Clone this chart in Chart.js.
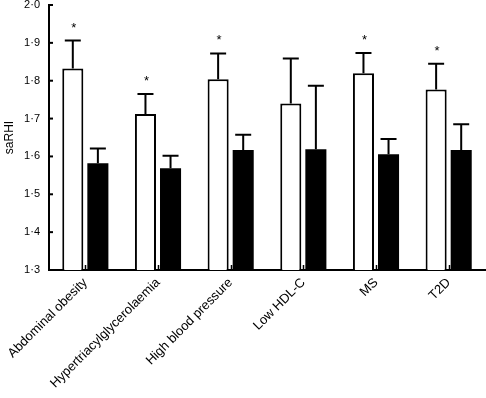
<!DOCTYPE html>
<html>
<head>
<meta charset="utf-8">
<script src="https://cdn.jsdelivr.net/npm/chart.js@4.4.0/dist/chart.umd.min.js"></script>
<style>
html,body{margin:0;padding:0;background:#fff;}
#wrap{width:486px;height:398px;}
</style>
</head>
<body>
<div id="wrap"><canvas id="c" width="486" height="398"></canvas></div>
<script>
const categories = ['Abdominal obesity','Hypertriacylglycerolaemia','High blood pressure','Low HDL-C','MS','T2D'];
const withCondition = [1.832, 1.712, 1.804, 1.740, 1.820, 1.777];
const withoutCondition = [1.582, 1.569, 1.617, 1.619, 1.606, 1.617];
const errWith = [0.074, 0.053, 0.068, 0.119, 0.053, 0.068];
const errWithout = [0.039, 0.033, 0.040, 0.168, 0.040, 0.068];
const significant = [true, true, true, false, true, true];
const yMin = 1.3, yMax = 2.0, yStep = 0.1;

const FONT = '"Liberation Sans", Arial, Helvetica, sans-serif';

const decor = {
  id: 'decor',
  afterDatasetsDraw(chart) {
    const ctx = chart.ctx;
    const ys = chart.scales.y, xs = chart.scales.x;
    const errs = [errWith, errWithout];
    const vals = [withCondition, withoutCondition];
    ctx.save();
    ctx.strokeStyle = '#000';
    ctx.fillStyle = '#000';
    ctx.lineWidth = 2;
    for (let d = 0; d < 2; d++) {
      const meta = chart.getDatasetMeta(d);
      meta.data.forEach((bar, i) => {
        const yTop = ys.getPixelForValue(vals[d][i] + errs[d][i]);
        ctx.beginPath();
        ctx.moveTo(bar.x, bar.y);
        ctx.lineTo(bar.x, yTop);
        ctx.moveTo(bar.x - 8, yTop);
        ctx.lineTo(bar.x + 8, yTop);
        ctx.stroke();
        if (d === 0 && significant[i]) {
          ctx.font = '13px ' + FONT;
          ctx.textAlign = 'center';
          ctx.textBaseline = 'alphabetic';
          ctx.fillText('*', bar.x + 1, yTop - 9);
        }
      });
    }
    // inward y ticks
    const ax = chart.chartArea.left;
    ys.ticks.forEach(t => {
      const py = ys.getPixelForValue(t.value);
      ctx.beginPath();
      ctx.lineWidth = 2;
      ctx.moveTo(ax, py);
      ctx.lineTo(ax + 4, py);
      ctx.stroke();
    });
    // inward x ticks
    const by = chart.chartArea.bottom;
    xs.ticks.forEach((t, i) => {
      const px = Math.round(xs.getPixelForTick(i)) + 0.5;
      ctx.beginPath();
      ctx.lineWidth = 1.5;
      ctx.moveTo(px, by);
      ctx.lineTo(px, by - 5);
      ctx.stroke();
    });
    ctx.restore();
  }
};

new Chart(document.getElementById('c'), {
  type: 'bar',
  data: {
    labels: categories,
    datasets: [
      { data: withCondition, backgroundColor: '#fff', borderColor: '#000', borderWidth: 2, borderSkipped: 'start' },
      { data: withoutCondition, backgroundColor: '#000', borderColor: '#000', borderWidth: 0 }
    ]
  },
  options: {
    responsive: false,
    animation: false,
    devicePixelRatio: 1,
    layout: { padding: { top: 5, right: 1, left: 0, bottom: 0 } },
    plugins: { legend: { display: false }, tooltip: { enabled: false } },
    datasets: { bar: { categoryPercentage: 0.69, barPercentage: 0.84 } },
    scales: {
      x: {
        grid: { display: false, drawTicks: false },
        border: { display: true, color: '#000', width: 2 },
        ticks: { color: '#000', font: { family: FONT, size: 13 }, maxRotation: 45, minRotation: 45, padding: 5, autoSkip: false },
        afterFit(s) { s.height = 128; s.paddingLeft = 0; s.paddingRight = 0; }
      },
      y: {
        min: yMin, max: yMax,
        grid: { display: false, drawTicks: false },
        border: { display: true, color: '#000', width: 2 },
        ticks: {
          stepSize: yStep, color: '#000', padding: 9,
          font: { family: FONT, size: 11 },
          callback: v => v.toFixed(1).replace('.', '\u00B7')
        },
        title: { display: true, text: 'saRHI', color: '#000', font: { family: FONT, size: 12 }, padding: { top: 2, bottom: 6 } },
        afterFit(s) { s.width = 49; s.paddingTop = 0; s.paddingBottom = 0; }
      }
    }
  },
  plugins: [decor]
});
</script>
</body>
</html>
